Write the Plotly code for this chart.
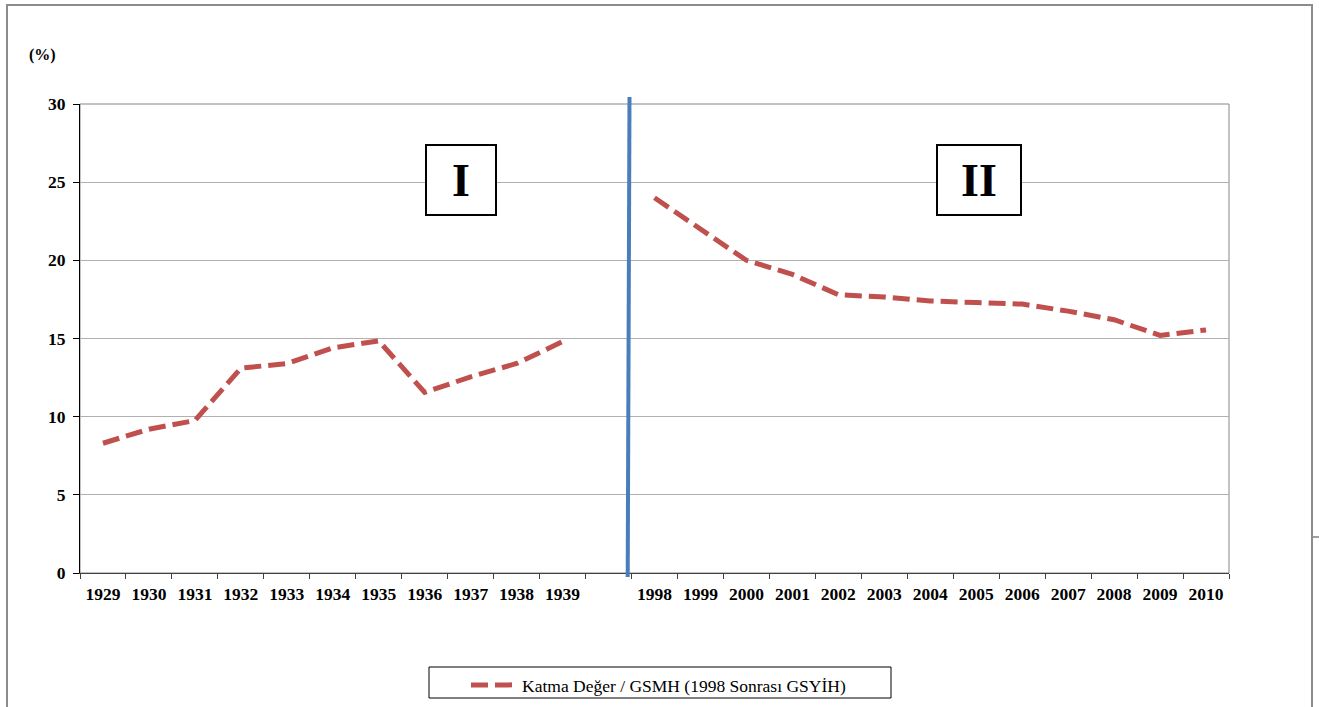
import plotly.graph_objects as go

# ---- data ----
years_period1 = ["1929", "1930", "1931", "1932", "1933", "1934", "1935", "1936", "1937", "1938", "1939"]
values_period1 = [8.3, 9.2, 9.75, 13.1, 13.4, 14.4, 14.85, 11.55, 12.55, 13.4, 14.8]
gap_label = [" "]
years_period2 = ["1998", "1999", "2000", "2001", "2002", "2003", "2004", "2005", "2006", "2007", "2008", "2009", "2010"]
values_period2 = [24.0, 22.0, 20.0, 19.1, 17.8, 17.65, 17.4, 17.3, 17.2, 16.75, 16.2, 15.2, 15.55]
y_ticks = [0, 5, 10, 15, 20, 25, 30]
series_name = "Katma Değer / GSMH (1998 Sonrası GSYİH)"
period_labels = ["I", "II"]

categories = years_period1 + gap_label + years_period2
values = values_period1 + [None] + values_period2
n_cat = len(categories)

SERIF = "Liberation Serif, Times New Roman, serif"
RED = "#C0504D"
BLUE = "#4A7EBB"

W, H = 1319, 707
# plot area in pixels
L, R, T, B = 80, 1229, 104, 573
PW, PH = R - L, B - T


def px(xp):
    return (xp - L) / PW


def py(yp):
    return (B - yp) / PH


def cat_to_paper(idx):
    return (idx + 0.5) / n_cat


fig = go.Figure()
fig.add_trace(go.Scatter(
    x=categories, y=values, mode="lines", name=series_name,
    line=dict(color=RED, width=5, dash="17px,7px"),
    connectgaps=False, showlegend=True,
))

gap_idx = len(years_period1)

fig.update_layout(
    width=W, height=H,
    margin=dict(l=L, r=W - R, t=T, b=H - B, autoexpand=False),
    paper_bgcolor="white", plot_bgcolor="white",
    showlegend=True,
    legend=dict(
        orientation="h", xref="container", yref="container",
        x=466 / W, xanchor="left", y=1 - 667 / H, yanchor="top",
        borderwidth=0, bgcolor="rgba(0,0,0,0)",
        font=dict(family=SERIF, size=17.5, color="black"),
        itemwidth=46,
    ),
    xaxis=dict(
        type="category", categoryorder="array", categoryarray=categories,
        tickson="boundaries", ticks="outside", ticklen=5, tickcolor="#404040",
        showline=True, linecolor="#404040", linewidth=1,
        showgrid=False, range=[-0.5, n_cat - 0.5],
        tickfont=dict(family=SERIF, size=17.5, color="black", weight="bold"),
        ticklabelstandoff=5,
        fixedrange=True,
    ),
    yaxis=dict(
        range=[0, 30], tickvals=y_ticks, ticks="outside", ticklen=6, tickcolor="black",
        showline=True, linecolor="black", linewidth=1,
        showgrid=True, gridcolor="#B0B0B0", gridwidth=1, zeroline=False,
        tickfont=dict(family=SERIF, size=17.5, color="black", weight="bold"),
        ticklabelstandoff=4,
        fixedrange=True,
    ),
    shapes=[
        # outer chart border
        dict(type="rect", xref="paper", yref="paper",
             x0=px(7), x1=px(1312), y0=py(720), y1=py(5),
             line=dict(color="#8C8C8C", width=2), layer="below"),
        # plot area border
        dict(type="rect", xref="paper", yref="paper", x0=0, x1=1, y0=0, y1=1,
             line=dict(color="#868686", width=1), layer="below"),
        # legend box
        dict(type="rect", xref="paper", yref="paper",
             x0=px(429), x1=px(891), y0=py(698), y1=py(667),
             line=dict(color="black", width=1), fillcolor="white", layer="below"),
        # small tick at right edge
        dict(type="line", xref="paper", yref="paper",
             x0=px(1313), x1=px(1319), y0=py(537), y1=py(537),
             line=dict(color="#404040", width=1)),
        # separator between the two periods
        dict(type="line", xref="paper", yref="paper",
             x0=cat_to_paper(gap_idx + 0.456), x1=cat_to_paper(gap_idx + 0.417),
             y0=py(97), y1=py(577),
             line=dict(color=BLUE, width=4), layer="above"),
    ],
    annotations=[
        dict(text="(%)", xref="paper", yref="paper", x=px(42), y=py(55),
             xanchor="center", yanchor="middle", showarrow=False,
             font=dict(family=SERIF, size=16, color="black", weight="bold")),
        dict(text=period_labels[0], xref="x", yref="y", x=7.8, y=25.11, showarrow=False,
             xanchor="center", yanchor="middle",
             width=68, height=68, borderpad=0, bordercolor="black", borderwidth=2, bgcolor="white",
             font=dict(family=SERIF, size=46, color="black", weight="bold")),
        dict(text=period_labels[1], xref="x", yref="y", x=19.05, y=25.11, showarrow=False,
             xanchor="center", yanchor="middle",
             width=82, height=68, borderpad=0, bordercolor="black", borderwidth=2, bgcolor="white",
             font=dict(family=SERIF, size=46, color="black", weight="bold")),
    ],
)

fig.write_html("out.html",
               config={"displayModeBar": False},
               post_script="document.body.style.margin='0';document.body.style.overflow='hidden';")
